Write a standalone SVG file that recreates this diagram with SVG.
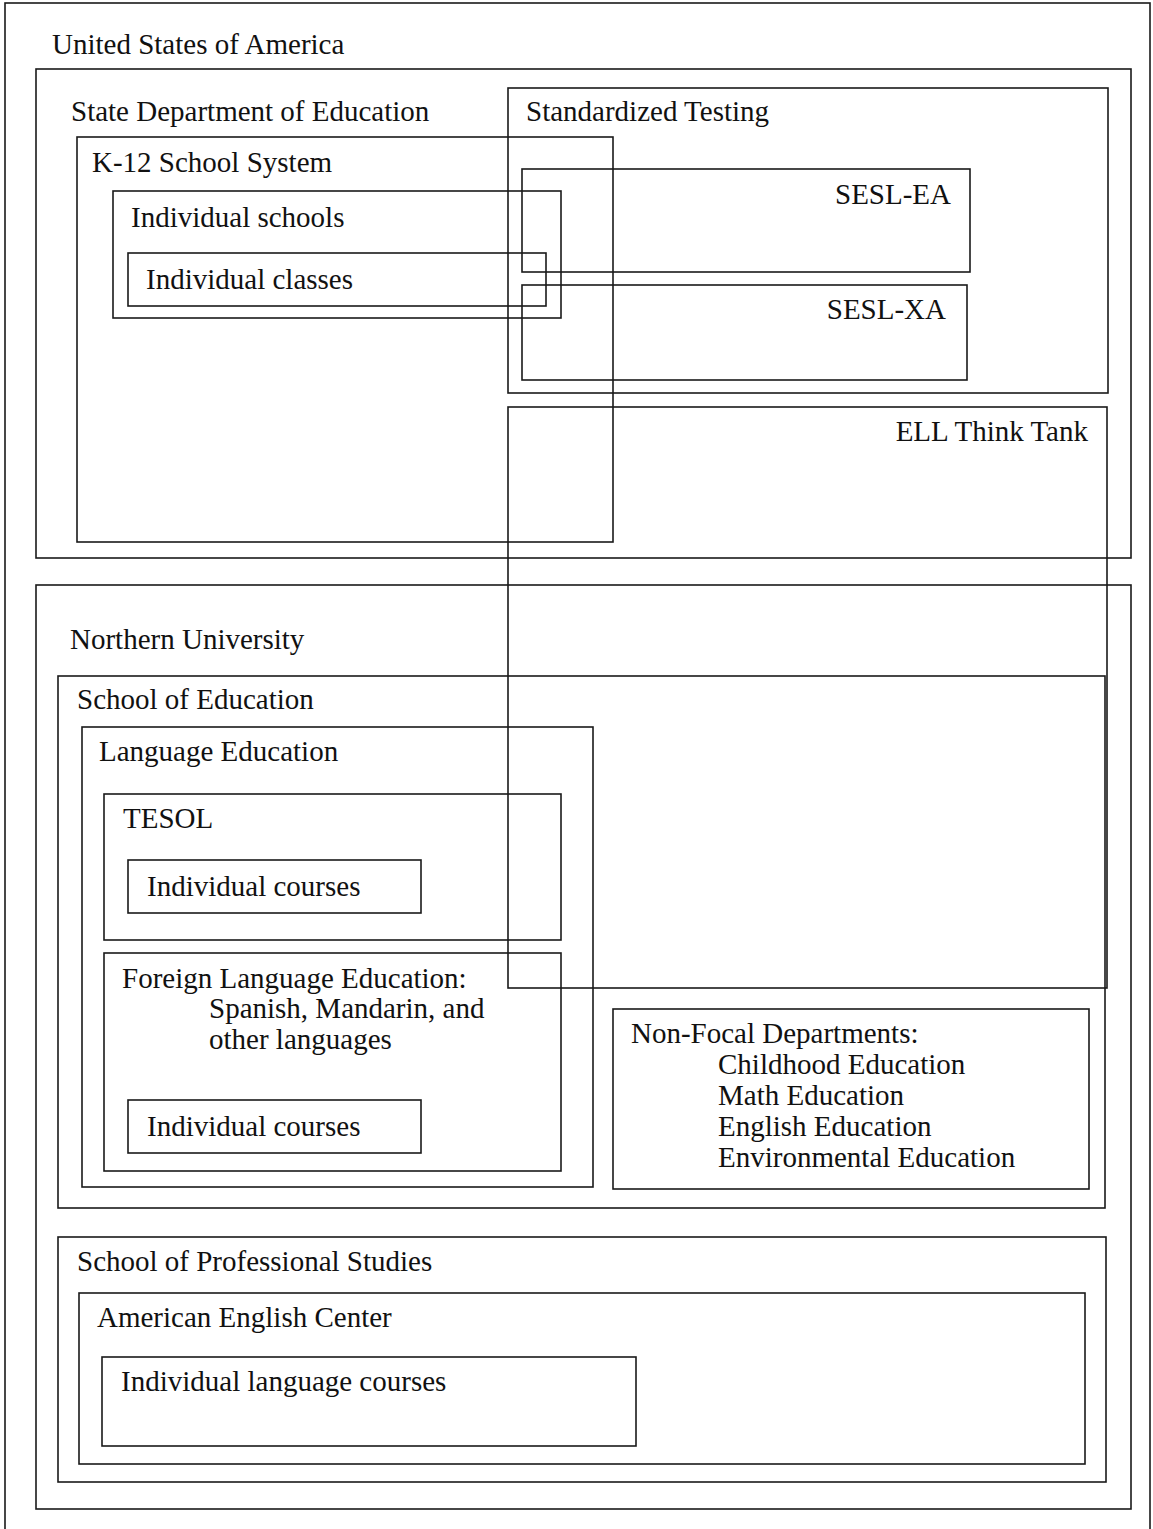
<svg xmlns="http://www.w3.org/2000/svg" width="1153" height="1529" viewBox="0 0 1153 1529">
<style>
rect{fill:none;stroke:#1a1a1a;stroke-width:1.6}
text{font-family:"Liberation Serif","Times New Roman",serif;font-size:29px;fill:#111}
.r{text-anchor:end}
</style>
<rect x="0" y="0" width="1153" height="1529" style="fill:#fff;stroke:none"/>
<g id="frame"><rect x="5" y="3" width="1145" height="1540"/><text x="52" y="54">United States of America</text></g>
<g id="state-dept"><rect x="36" y="69" width="1095" height="489"/><text x="71" y="121">State Department of Education</text></g>
<g id="standardized-testing"><rect x="508" y="88" width="600" height="305"/><text x="526" y="121">Standardized Testing</text></g>
<g id="k12"><rect x="77" y="137" width="536" height="405"/><text x="92" y="172">K-12 School System</text></g>
<g id="sesl-ea"><rect x="522" y="169" width="448" height="103"/><text class="r" x="951" y="204">SESL-EA</text></g>
<g id="schools"><rect x="113" y="191" width="448" height="127"/><text x="131" y="227">Individual schools</text></g>
<g id="classes"><rect x="128" y="253" width="418" height="53"/><text x="146" y="289">Individual classes</text></g>
<g id="sesl-xa"><rect x="522" y="285" width="445" height="95"/><text class="r" x="946" y="319">SESL-XA</text></g>
<g id="ell"><rect x="508" y="407" width="599" height="581"/><text class="r" x="1088" y="441">ELL Think Tank</text></g>
<g id="northern"><rect x="36" y="585" width="1095" height="924"/><text x="70" y="649">Northern University</text></g>
<g id="school-ed"><rect x="58" y="676" width="1047" height="532"/><text x="77" y="709">School of Education</text></g>
<g id="lang-ed"><rect x="82" y="727" width="511" height="460"/><text x="99" y="761">Language Education</text></g>
<g id="tesol"><rect x="104" y="794" width="457" height="146"/><text x="123" y="828">TESOL</text></g>
<g id="courses1"><rect x="128" y="860" width="293" height="53"/><text x="147" y="896">Individual courses</text></g>
<g id="foreign"><rect x="104" y="953" width="457" height="218"/><text x="122" y="988">Foreign Language Education:</text><text x="209" y="1018">Spanish, Mandarin, and</text><text x="209" y="1049">other languages</text></g>
<g id="courses2"><rect x="128" y="1100" width="293" height="53"/><text x="147" y="1136">Individual courses</text></g>
<g id="nonfocal"><rect x="613" y="1009" width="476" height="180"/><text x="631" y="1043">Non-Focal Departments:</text><text x="718" y="1074">Childhood Education</text><text x="718" y="1105">Math Education</text><text x="718" y="1136">English Education</text><text x="718" y="1167">Environmental Education</text></g>
<g id="prof-studies"><rect x="58" y="1237" width="1048" height="245"/><text x="77" y="1271">School of Professional Studies</text></g>
<g id="aec"><rect x="79" y="1293" width="1006" height="171"/><text x="97" y="1327">American English Center</text></g>
<g id="lang-courses"><rect x="102" y="1357" width="534" height="89"/><text x="121" y="1391">Individual language courses</text></g>
<g id="connectors"></g>
</svg>
